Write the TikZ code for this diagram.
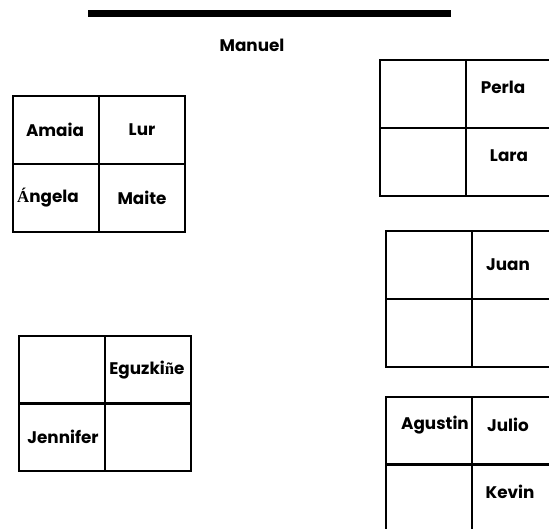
\documentclass[tikz,border=0pt]{standalone}
\usepackage{fontspec}
\setmainfont{Poppins}
\newfontfamily\serifB{Liberation Serif}[UprightFont=* Bold]
\newfontfamily\serifR{Liberation Serif}
\begin{document}
\begin{tikzpicture}[x=1pt,y=-1pt,
  cell/.style={draw=black,line width=2pt,minimum width=86pt,minimum height=68pt,inner sep=0pt,outer sep=0pt,anchor=north west},
  lbl/.style={font=\fontsize{16.8}{19}\selectfont\bfseries,inner sep=0pt,anchor=center},
  bar/.style={line width=7pt,line cap=butt}]
\useasboundingbox (0,0) rectangle (549,528);
\clip (0,0) rectangle (549,528);
% top bar
\coordinate (barL) at (88,13.5);
\coordinate (barR) at (451,13.5);
\draw[bar] (barL) -- (barR);
\node[lbl] (manuel) at (252,45) {Manuel};
% box A
\node[cell] (a1) at (13,96) {};
\node[cell] (a2) at (99,96) {};
\node[cell] (a3) at (13,164) {};
\node[cell] (a4) at (99,164) {};
\node[lbl] (amaia) at (55,130) {Amaia};
\node[lbl] (lur) at (142,130) {Lur};
\node[lbl] (angela) at (48,198) {{\serifB Á}ngela};
\node[lbl] (maite) at (142,198) {Maite};
% box P
\node[cell] (p1) at (380,59.5) {};
\node[cell] (p2) at (466,59.5) {};
\node[cell] (p3) at (380,127.5) {};
\node[cell] (p4) at (466,127.5) {};
\node[lbl] (perla) at (503,87) {Perla};
\node[lbl] (lara) at (509,156) {Lara};
% box J
\node[cell] (j1) at (386,231) {};
\node[cell] (j2) at (472,231) {};
\node[cell] (j3) at (386,299) {};
\node[cell] (j4) at (472,299) {};
\node[lbl] (juan) at (508,265) {Juan};
% box E
\node[cell] (e1) at (19,335.5) {};
\node[cell] (e2) at (105,335.5) {};
\node[cell] (e3) at (19,403) {};
\node[cell] (e4) at (105,403) {};
\node[lbl] (eguz) at (147,370) {Eguzki{\serifR ñ}e};
\node[lbl] (jenn) at (63,437) {Jennifer};
% box G
\node[cell] (g1) at (386,397) {};
\node[cell] (g2) at (472,397) {};
\node[cell] (g3) at (386,464) {};
\node[cell] (g4) at (472,464) {};
\node[lbl] (agus) at (435,425) {Agustin};
\node[lbl] (julio) at (508,425) {Julio};
\node[lbl] (kevin) at (510,492) {Kevin};
\end{tikzpicture}
\end{document}
